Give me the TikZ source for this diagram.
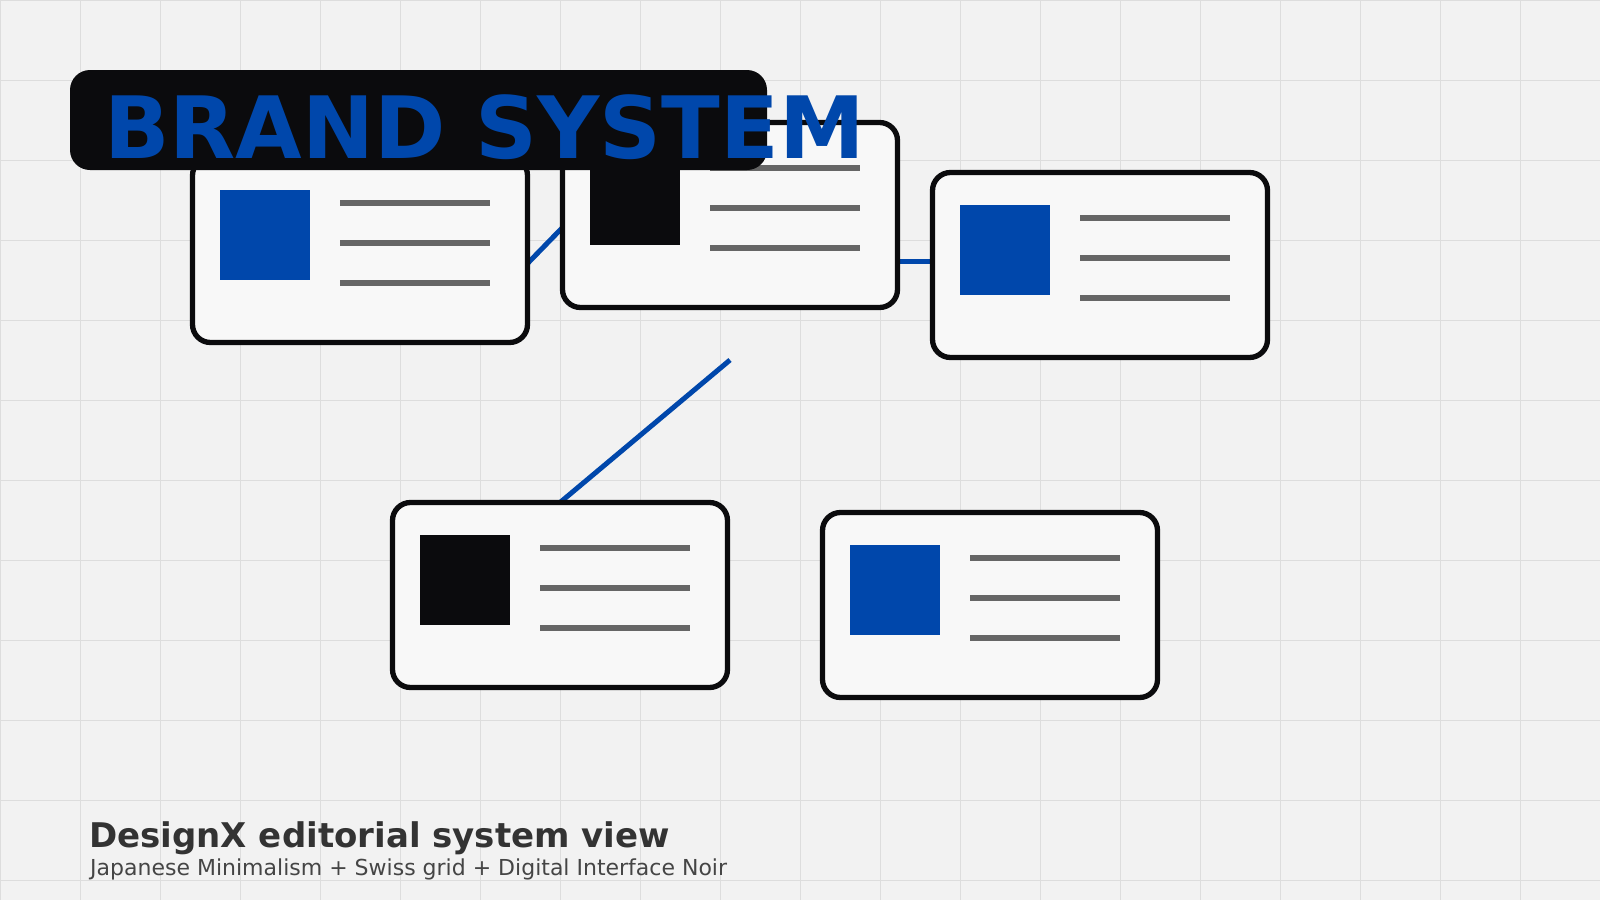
\documentclass[tikz,border=0pt]{standalone}
\usepackage{xcolor}
\usepackage{fontspec}
\setmainfont{DejaVu Sans}
\usepackage{tikz}
\usetikzlibrary{calc, backgrounds}
\definecolor{brandblue}{RGB}{0, 71, 171}
\definecolor{noirblack}{RGB}{11, 11, 13}
\definecolor{paperwhite}{RGB}{242, 242, 242}
\definecolor{cardwhite}{RGB}{248, 248, 248}
\definecolor{rulegray}{RGB}{102, 102, 102}
\definecolor{gridgray}{RGB}{221, 221, 221}
\begin{document}
\begin{tikzpicture}[x=1pt, y=-1pt,
    card/.style={draw=noirblack, fill=cardwhite, line width=5.3pt, rounded corners=18pt,
        minimum width=335pt, minimum height=185pt, inner sep=0pt, outer sep=0pt},
    link/.style={draw=brandblue, line width=5pt},
    textline/.style={draw=rulegray, line width=6pt},
    gridline/.style={draw=gridgray, line width=1pt},
    caption/.style={anchor=base west, inner sep=0pt}
]
\useasboundingbox (0,0) rectangle (1600,900);

\node[card] (topleft) at (360,250) {};
\node[card] (topmid) at (730,215) {};
\node[card] (topright) at (1100,265) {};
\node[card] (lowleft) at (560,595) {};
\node[card] (lowright) at (990,605) {};
\coordinate (loose) at (730,360);

\begin{pgfonlayer}{background}
\fill[paperwhite] (0,0) rectangle (1600,900);
\foreach \gx in {0,80,...,1600} \draw[gridline] (\gx,0) -- (\gx,900);
\foreach \gy in {0,80,...,880} \draw[gridline] (0,\gy) -- (1600,\gy);
\draw[link] ($(topleft.east)+(0,13.5)$) -- ($(topmid.west)+(0,12.5)$);
\draw[link] ($(topmid.east)+(0,46)$) -- ($(topright.west)+(0,-4)$);
\draw[link] (lowleft.north) -- (loose);
\end{pgfonlayer}

\foreach \c/\ic in {topleft/brandblue, topmid/noirblack, topright/brandblue,
    lowleft/noirblack, lowright/brandblue} {
  \fill[\ic] ($(\c.center)+(-140,-60)$) rectangle ++(90,90);
  \foreach \dy in {-47,-7,33}
    \draw[textline] ($(\c.center)+(-20,\dy)$) -- ++(150,0);
}

\fill[noirblack, rounded corners=20pt] (70,70) rectangle (767,170);
\node[caption, text=brandblue, font=\bfseries\fontsize{86}{86}\selectfont] (brand) at (104,158) {BRAND SYSTEM};

\node[caption, text=black!80, font=\bfseries\fontsize{34}{34}\selectfont] (viewtitle) at (89,847) {DesignX editorial system view};
\node[caption, text=black!73, font=\fontsize{22}{22}\selectfont] (viewsub) at (90,875) {Japanese Minimalism + Swiss grid + Digital Interface Noir};
\end{tikzpicture}
\end{document}
